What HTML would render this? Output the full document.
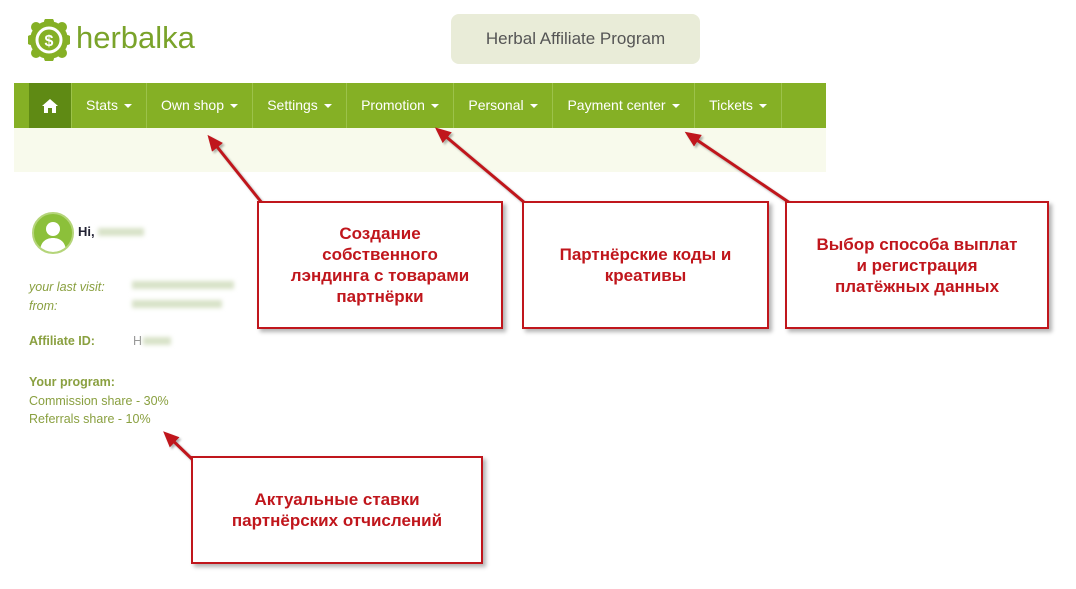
<!DOCTYPE html>
<html><head><meta charset="utf-8"><style>
body{margin:0;width:1076px;height:589px;background:#fff;position:relative;overflow:hidden;font-family:"Liberation Sans",Arial,sans-serif}
.a{position:absolute}
.nav{left:14px;top:83px;width:812px;height:45px;background:#85b025}
.it{position:absolute;top:0;height:45px;line-height:45px;color:#fff;font-size:14px;text-align:center;border-right:1px solid #9cc24a}
.car{display:inline-block;border-left:4px solid transparent;border-right:4px solid transparent;border-top:4px solid #fff;vertical-align:middle;margin-left:6px}
.box{position:absolute;border:2px solid #c0161c;background:#fff;box-shadow:3px 3px 4px rgba(0,0,0,.3);display:flex;align-items:center;justify-content:center;text-align:center;color:#c0161c;font-weight:bold;font-size:17px;line-height:21px}
.g{color:#8aa040;font-size:12.5px}
.blur{background:#d8e2c8;filter:blur(2px);height:8px;position:absolute}
</style></head><body>
<svg class="a" style="left:28px;top:19px" width="42" height="42" viewBox="0 0 42 42">
<circle cx="21" cy="21" r="19" fill="#85b025"/>
<g fill="#85b025"><circle cx="21" cy="3" r="5"/><circle cx="21" cy="39" r="5"/><circle cx="3" cy="21" r="5"/><circle cx="39" cy="21" r="5"/><circle cx="8" cy="8" r="5"/><circle cx="34" cy="8" r="5"/><circle cx="8" cy="34" r="5"/><circle cx="34" cy="34" r="5"/></g>
<circle cx="21" cy="21" r="12" fill="none" stroke="#fff" stroke-width="3"/>
<text x="21" y="27" text-anchor="middle" fill="#fff" font-size="16" font-weight="bold" font-family="Liberation Sans">$</text></svg>
<div class="a" style="left:76px;top:20px;font-size:31px;color:#7aa32a">herbalka</div>
<div class="a" style="left:451px;top:14px;width:249px;height:50px;background:#e9ecd8;border-radius:8px;line-height:50px;text-align:center;font-size:17px;color:#555">Herbal Affiliate Program</div>
<div class="a nav">
<div class="it" style="left:15px;width:42px;background:#5f8a14">
<svg width="16" height="14" viewBox="0 0 16 14" style="vertical-align:middle"><path d="M8 0L0 7h2v7h4V9h4v5h4V7h2z" fill="#fff"/></svg></div>
<div class="it" style="left:58px;width:74px">Stats<span class="car"></span></div>
<div class="it" style="left:133px;width:105px">Own shop<span class="car"></span></div>
<div class="it" style="left:239px;width:93px">Settings<span class="car"></span></div>
<div class="it" style="left:333px;width:106px">Promotion<span class="car"></span></div>
<div class="it" style="left:440px;width:98px">Personal<span class="car"></span></div>
<div class="it" style="left:539px;width:141px">Payment center<span class="car"></span></div>
<div class="it" style="left:681px;width:86px">Tickets<span class="car"></span></div>
</div>
<div class="a" style="left:14px;top:128px;width:812px;height:44px;background:#f8faec"></div>
<div class="a" style="left:32px;top:212px;width:38px;height:38px;border-radius:50%;background:#8cc03a;border:2px solid #b5d57a;overflow:hidden">
<svg width="38" height="38"><circle cx="19" cy="15" r="7" fill="#fff"/><path d="M6 38c0-10 6-14 13-14s13 4 13 14z" fill="#fff"/></svg></div>
<div class="a" style="left:78px;top:224px;font-size:13px;font-weight:bold;color:#223">Hi,</div>
<div class="blur" style="left:98px;top:228px;width:46px"></div>
<div class="a g" style="left:29px;top:278px;font-style:italic;line-height:19px">your last visit:<br>from:</div>
<div class="blur" style="left:132px;top:281px;width:102px"></div>
<div class="blur" style="left:132px;top:300px;width:90px"></div>
<div class="a g" style="left:29px;top:334px;font-weight:bold">Affiliate ID:</div>
<div class="a g" style="left:133px;top:334px;color:#999">H</div>
<div class="blur" style="left:143px;top:337px;width:28px"></div>
<div class="a g" style="left:29px;top:373px;line-height:18.5px"><b>Your program:</b><br>Commission share - 30%<br>Referrals share - 10%</div>
<svg class="a" style="left:0;top:0" width="1076" height="589">
<defs><marker id="m" markerWidth="16" markerHeight="14" refX="12" refY="7" orient="auto" markerUnits="userSpaceOnUse" viewBox="0 0 16 14"><path d="M0 0L16 7L0 14z" fill="#c0161c"/></marker></defs>
<g stroke="#c0161c" stroke-width="3" marker-end="url(#m)" style="filter:drop-shadow(2px 2px 1px rgba(0,0,0,.3))">
<line x1="262" y1="203" x2="210" y2="138"/>
<line x1="525" y1="203" x2="438" y2="130"/>
<line x1="790" y1="203" x2="688" y2="134"/>
<line x1="193" y1="460" x2="166" y2="434"/>
</g></svg>
<div class="box" style="left:257px;top:201px;width:242px;height:124px">Создание<br>собственного<br>лэндинга с товарами<br>партнёрки</div>
<div class="box" style="left:522px;top:201px;width:243px;height:124px">Партнёрские коды и<br>креативы</div>
<div class="box" style="left:785px;top:201px;width:260px;height:124px">Выбор способа выплат<br>и регистрация<br>платёжных данных</div>
<div class="box" style="left:191px;top:456px;width:288px;height:104px">Актуальные ставки<br>партнёрских отчислений</div>
</body></html>
